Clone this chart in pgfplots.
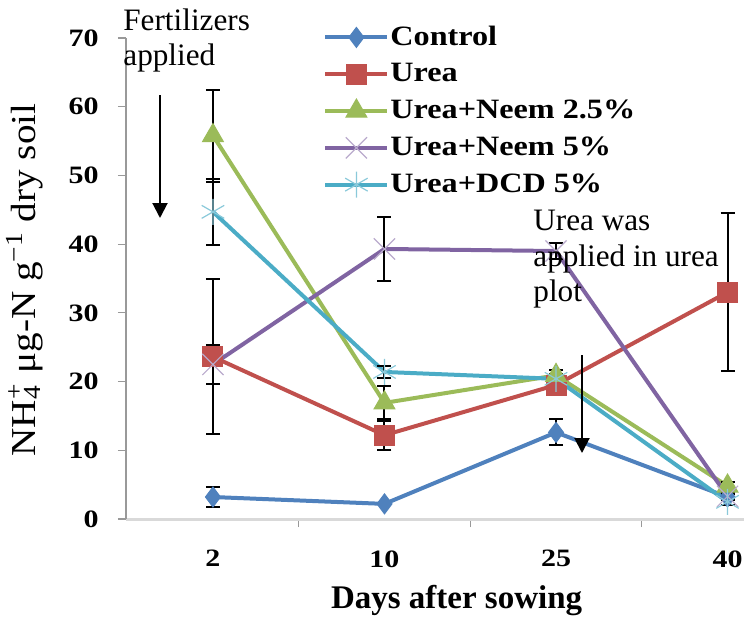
\documentclass[border=0pt]{standalone}
\usepackage{fontspec}
\setmainfont{Liberation Serif}
\newfontfamily\tickfont[FakeStretch=1.2]{Liberation Serif}
\newfontfamily\legfont[FakeStretch=1.15]{Liberation Serif}
\newfontfamily\ylabfont[FakeStretch=1.12]{Liberation Serif}
\usepackage{pgfplots}
\usepackage{pgfplotstable}
\pgfplotsset{compat=1.18}
\usetikzlibrary{arrows.meta}
\definecolor{cCtrl}{HTML}{4F81BD}
\definecolor{cUrea}{HTML}{C0504D}
\definecolor{cGreen}{HTML}{9BBB59}
\definecolor{cPurple}{HTML}{8064A2}
\definecolor{cCyan}{HTML}{4BACC6}

\pgfplotstableread{
x y e
0 3.2 1.4
1 2.2 0
2 12.6 1.9
3 3.2 0.4
}\ctrl
\pgfplotstableread{
x y e
0 23.6 11.3
1 12.2 2.1
2 19.5 0.8
3 33.0 11.5
}\urea
\pgfplotstableread{
x y e
0 55.8 6.7
1 16.9 2.4
2 20.9 0.8
3 4.8 0.6
}\neemA
\pgfplotstableread{
x y e
0 22.5 2.8
1 39.3 4.7
2 39.0 1.2
3 3.3 0.5
}\neemB
\pgfplotstableread{
x y e
0 44.7 4.8
1 21.4 0.9
2 20.4 0.7
3 2.5 0.5
}\dcd

\begin{document}
\begin{tikzpicture}
\path[use as bounding box] (-63pt,-49.5pt) rectangle (309pt,259.5pt);
\begin{axis}[
  at={(0pt,0pt)}, anchor=south west,
  scale only axis, width=309pt, height=240.5pt,
  xmin=-0.507, xmax=3.096, ymin=0, ymax=70,
  separate axis lines,
  axis x line*=bottom, axis y line*=left,
  x axis line style={-, draw=black!15, line width=1.5pt},
  y axis line style={-, draw=black!40, line width=0.7pt},
  xtick={0,1,2,3}, xticklabels={2,10,25,40},
  minor xtick={0.5,1.5,2.5},
  major x tick style={draw=none},
  minor x tick style={draw=black!40, line width=0.6pt},
  minor tick length=4pt,
  ytick={0,10,...,70},
  y tick style={draw=black!40, line width=0.6pt},
  major tick length=4pt,
  tick align=outside,
  /pgf/number format/assume math mode=true,
  yticklabel style={font=\tickfont\bfseries\fontsize{12.5}{15}\selectfont, anchor=east, inner sep=0pt, xshift=-9.5pt},
  xticklabel style={font=\tickfont\bfseries\fontsize{12.5}{15}\selectfont, anchor=north, inner sep=0pt, yshift=-11.5pt},
  xlabel={Days after sowing},
  every axis x label/.style={at={(axis description cs:0.535,0)}, anchor=base, yshift=-44.5pt, font=\bfseries\fontsize{16.5}{19}\selectfont, inner sep=0pt},
  ylabel={NH\rlap{\textsubscript{4}}\textsuperscript{+} μg-N g\textsuperscript{−1} dry soil},
  every axis y label/.style={at={(axis description cs:-0.147,0.497)}, rotate=90, anchor=base, font=\ylabfont\fontsize{17.5}{20}\selectfont, inner sep=0pt},
  legend style={at={(axis description cs:0.3188,1.0403)}, anchor=north west, draw=none, fill=none,
    font=\legfont\bfseries\fontsize{14}{16}\selectfont, row sep=0pt, inner sep=0pt,
    nodes={inner sep=0pt, minimum height=18.4pt},
    /tikz/every odd column/.append style={column sep=0.5pt}},
  legend cell align=left,
  legend image code/.code={\draw[#1, mark repeat=2, mark phase=2] plot coordinates {(0pt,0pt) (15.5pt,0pt) (31pt,0pt)};},
  every axis plot/.append style={line width=2pt},
  error bars/error bar style={black, line width=1pt},
  error bars/error mark options={black, rotate=90, mark size=3.5pt, line width=1pt},
]
\addplot[color=cCtrl, mark=diamond*, mark size=5pt, mark options={fill=cCtrl, draw=cCtrl, line width=0.5pt},
  error bars/.cd, y dir=both, y explicit] table[x=x, y=y, y error=e] {\ctrl};
\addlegendentry{Control}
\addplot[color=cUrea, mark=square*, mark size=5pt, mark options={fill=cUrea, draw=cUrea, line width=0.5pt},
  error bars/.cd, y dir=both, y explicit] table[x=x, y=y, y error=e] {\urea};
\addlegendentry{Urea}
\addplot[color=cGreen, mark=triangle*, mark size=6pt, mark options={fill=cGreen, draw=cGreen, line width=0.5pt},
  error bars/.cd, y dir=both, y explicit] table[x=x, y=y, y error=e] {\neemA};
\addlegendentry{Urea+Neem 2.5\%}
\addplot[color=cPurple, mark=x, mark size=7.5pt, mark options={draw=cPurple!55, line width=0.6pt},
  error bars/.cd, y dir=both, y explicit] table[x=x, y=y, y error=e] {\neemB};
\addlegendentry{Urea+Neem 5\%}
\addplot[color=cCyan, mark=asterisk, mark size=6.5pt, mark options={draw=cCyan!65, line width=0.6pt},
  error bars/.cd, y dir=both, y explicit] table[x=x, y=y, y error=e] {\dcd};
\addlegendentry{Urea+DCD 5\%}
\end{axis}
\begin{scope}[font=\fontsize{15.6}{18}\selectfont]
\node[anchor=base west, inner sep=0pt] at (-1.5pt,244.5pt) {Fertilizers};
\node[anchor=base west, inner sep=0pt] at (-1.5pt,227pt) {applied};
\draw[line width=1pt, -{Triangle[length=7.5pt, width=7.5pt]}] (17pt,212pt) -- (17pt,150.5pt);
\node[anchor=base west, inner sep=0pt] at (203.5pt,144.5pt) {Urea was};
\node[anchor=base west, inner sep=0pt] at (203.5pt,126.5pt) {applied in urea};
\node[anchor=base west, inner sep=0pt] at (203.5pt,108.6pt) {plot};
\draw[line width=1pt, -{Triangle[length=7.5pt, width=7.5pt]}] (228pt,82pt) -- (228pt,33pt);
\end{scope}
\end{tikzpicture}
\end{document}
